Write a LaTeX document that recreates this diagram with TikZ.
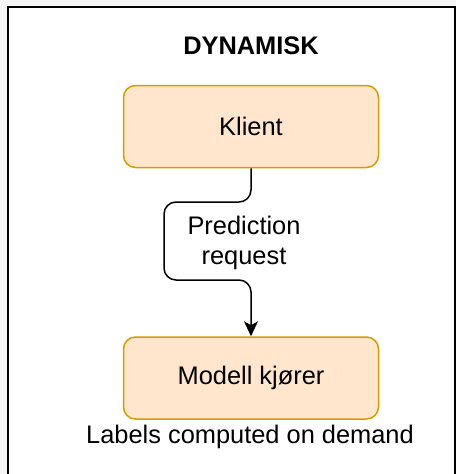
\documentclass[tikz,border=0pt]{standalone}
\usepackage{fontspec}
\setmainfont{Liberation Sans}
\usetikzlibrary{arrows.meta}
\definecolor{boxfill}{HTML}{FFE6CC}
\definecolor{boxline}{HTML}{D79B00}
\definecolor{pagebg}{HTML}{F4F4F4}
\tikzset{
  stagebox/.style={draw=boxline, fill=boxfill, line width=1.5pt, rounded corners=12pt,
    minimum width=255pt, minimum height=82pt, inner sep=0pt,
    font=\fontsize{25.4}{30}\selectfont},
  plaintext/.style={inner sep=0pt, font=\fontsize{25.4}{30}\selectfont, align=center},
  flow/.style={draw=black, line width=1.5pt, rounded corners=12pt,
    -{Stealth[length=15pt, width=14pt, inset=4pt]}}
}
\begin{document}
\begin{tikzpicture}[x=1pt, y=-1pt]
  \useasboundingbox (0,0) rectangle (456,474);
  \fill[pagebg] (0,0) rectangle (456,474);
  \begin{scope}
    \clip (0,0) rectangle (456,474);
    \draw[line width=2pt, fill=white] (8,7) rectangle (455,490);
  \end{scope}

  \node[plaintext, font=\fontsize{25.4}{30}\selectfont\bfseries] (title) at (251,46) {DYNAMISK};

  \node[stagebox] (klient) at (251,126.5) {Klient};
  \node[stagebox] (modell) at (251,378) {Modell kjører};

  \node[plaintext] (caption) at (250,437) {Labels computed on demand};

  \coordinate (bendA) at (164,202);
  \coordinate (bendB) at (164,280);
  \draw[flow] (klient.south) |- (bendA) -- (bendB) -| (modell.north);

  \node[plaintext] (req) at (244,243) {Prediction\\request};
\end{tikzpicture}
\end{document}
